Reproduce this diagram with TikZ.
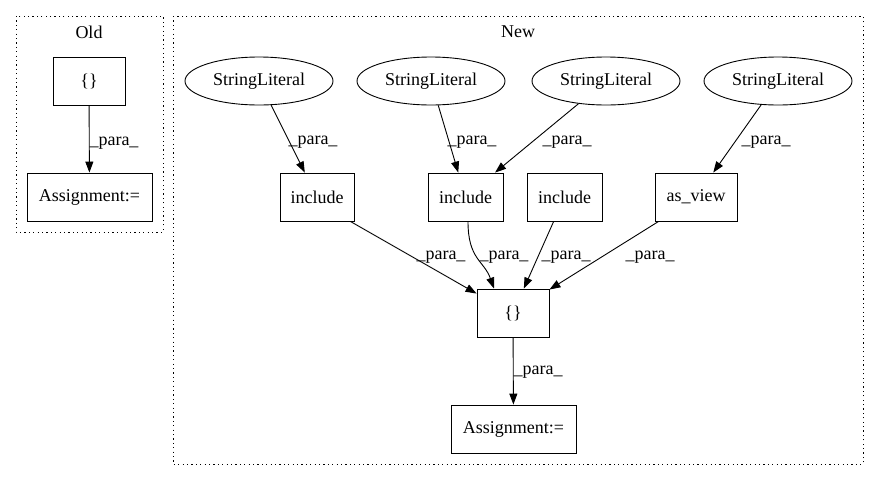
\documentclass[tikz,border=0pt]{standalone}
\usepackage{fontspec}
\setmainfont{Liberation Serif}
\usetikzlibrary{arrows.meta,shapes.geometric}
\begin{document}
\begin{tikzpicture}[x=1pt,y=-1pt,
  font=\fontsize{18}{20}\selectfont,
  box/.style={draw,line width=0.9pt,rectangle,minimum height=48pt,inner sep=0pt},
  lit/.style={draw,line width=0.9pt,ellipse,minimum width=148pt,minimum height=48pt,inner sep=0pt},
  edge/.style={line width=0.9pt,-{Triangle[length=11pt,width=8pt]}},
  lbl/.style={inner sep=0pt},
  cluster/.style={draw,line width=0.9pt,dash pattern=on 1.2pt off 3.2pt}]
\useasboundingbox (0,0) rectangle (880,480);
% clusters
\draw[cluster] (16,16) rectangle (163,232);
\draw[cluster] (173,16) rectangle (863,464);
\node[lbl] (toldtitle) at (89,32) {Old};
\node[lbl] (tnewtitle) at (518,32) {New};
% Old
\node[box,minimum width=72pt] (oldset) at (89,81) {\{\}};
\node[box,minimum width=125pt] (oldassign) at (89.5,197) {Assignment:=};
\draw[edge] (oldset) -- (oldassign);
\node[lbl] (lold) at (114,143) {\_para\_};
% New
\node[lit] (sl1) at (259,81) {StringLiteral};
\node[lit] (sl2) at (431,81) {StringLiteral};
\node[lit] (sl3) at (606,81) {StringLiteral};
\node[lit] (sl4) at (778,81) {StringLiteral};
\node[box,minimum width=74pt] (inc1) at (317,197) {include};
\node[box,minimum width=75pt] (inc2) at (465.5,197) {include};
\node[box,minimum width=75pt] (inc3) at (564.5,197) {include};
\node[box,minimum width=82pt] (asview) at (696,197) {as\_view};
\node[box,minimum width=72pt] (newset) at (513,313) {\{\}};
\node[box,minimum width=125pt] (newassign) at (513.5,429) {Assignment:=};
\draw[edge] (sl1) -- (inc1);
\draw[edge] (sl2) -- (inc2);
\draw[edge] (sl3) -- (inc2);
\draw[edge] (sl4) -- (asview);
\node[lbl] (l1) at (313,142) {\_para\_};
\node[lbl] (l2) at (472,142) {\_para\_};
\node[lbl] (l3) at (567,142) {\_para\_};
\node[lbl] (l4) at (766,142) {\_para\_};
\draw[edge] ([xshift=-4pt]inc1.south east) -- ([yshift=-5pt]newset.north west);
\draw[edge] ([xshift=2.5pt]inc2.south) .. controls +(0,38) and +(-10,-28) .. ([xshift=-19pt]newset.north);
\draw[edge] (inc3) -- (newset);
\draw[edge] ([xshift=4pt]asview.south west) -- ([yshift=-1pt]newset.north east);
\node[lbl] (l5) at (441,257) {\_para\_};
\node[lbl] (l6) at (504,257) {\_para\_};
\node[lbl] (l7) at (566,257) {\_para\_};
\node[lbl] (l8) at (650,257) {\_para\_};
\draw[edge] (newset) -- (newassign);
\node[lbl] (l9) at (538,372) {\_para\_};
\end{tikzpicture}
\end{document}
